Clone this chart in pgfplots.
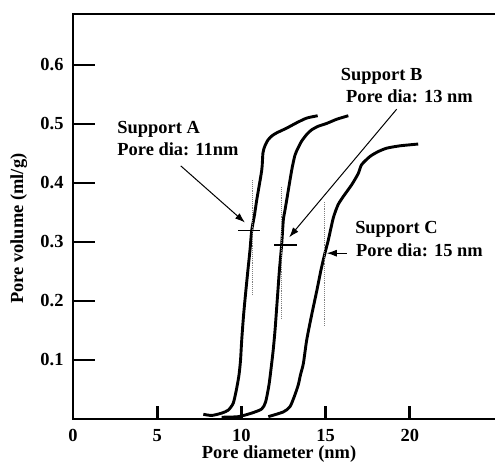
\documentclass[border=0pt]{standalone}
\usepackage{pgfplots}
\pgfplotsset{compat=1.18}
\usepackage{fontspec}
\setmainfont{Liberation Serif}
\usetikzlibrary{arrows.meta}
\newcommand{\lblfont}{\fontsize{18.5}{22}\selectfont\bfseries}
\begin{document}
\begin{tikzpicture}
\begin{axis}[
  name=ax,
  at={(0,0)}, anchor=south west,
  scale only axis, width=424bp, height=405bp,
  xmin=0, xmax=25.18, ymin=0, ymax=0.6864,
  axis line style={line width=2.8bp},
  tick align=inside, tick pos=left,
  major tick length=22bp,
  xtick style={line width=2.8bp, black, /pgfplots/major tick length=13bp},
  ytick style={line width=2.8bp, black},
  xtick={0,5,10,15,20},
  ytick={0.1,0.2,0.3,0.4,0.5,0.6},
  /pgf/number format/assume math mode=true,
  yticklabel style={/pgf/number format/fixed, /pgf/number format/precision=1, /pgf/number format/fixed zerofill, xshift=-6bp},
  xticklabel style={yshift=-7bp},
  tick label style={font=\lblfont},
  label style={font=\lblfont},
  xlabel={Pore diameter (nm)},
  ylabel={Pore volume (ml/g)},
  xlabel style={at={(axis description cs:0.486,-0.0975)}, anchor=base},
  ylabel style={at={(axis description cs:-0.128,0.47)}, anchor=center},
  clip=false,
]
% Support A
\addplot[black, line width=2.9bp, smooth, tension=0.4, line join=round] coordinates {
(7.74,0.008) (8.24,0.006) (8.83,0.010) (9.22,0.015) (9.52,0.027) (9.72,0.052)
(9.86,0.075) (9.95,0.100) (10.02,0.134) (10.13,0.176) (10.24,0.210) (10.39,0.253)
(10.51,0.286) (10.61,0.319) (10.78,0.346) (10.91,0.371) (11.21,0.422) (11.28,0.451)
(11.40,0.463) (11.58,0.473) (11.82,0.480) (12.10,0.485) (12.69,0.493) (13.28,0.502)
(13.88,0.510) (14.53,0.514)
};
% Support B
\addplot[black, line width=2.9bp, smooth, tension=0.4, line join=round] coordinates {
(8.83,0.003) (9.82,0.004) (10.61,0.010) (11.21,0.017) (11.44,0.029) (11.64,0.058)
(11.79,0.092) (11.89,0.117) (12.00,0.151) (12.13,0.202) (12.26,0.253) (12.39,0.295)
(12.49,0.337) (12.59,0.354) (12.69,0.371) (12.99,0.422) (13.18,0.447) (13.36,0.459)
(13.58,0.471) (13.90,0.483) (14.17,0.490) (14.55,0.496) (15.07,0.501) (15.66,0.508)
(16.35,0.514)
};
% Support C
\addplot[black, line width=2.9bp, smooth, tension=0.4, line join=round] coordinates {
(11.60,0.004) (12.49,0.012) (12.89,0.021) (13.18,0.041) (13.38,0.058) (13.51,0.075)
(13.68,0.094) (13.88,0.134) (14.17,0.176) (14.49,0.219) (14.73,0.253) (14.96,0.281)
(15.16,0.303) (15.46,0.341) (15.74,0.363) (16.05,0.377) (16.55,0.397) (16.94,0.416)
(17.14,0.431) (17.64,0.445) (18.11,0.453) (18.63,0.459) (19.42,0.463) (20.50,0.466)
};
% dotted median lines
\addplot[gray, densely dotted, line width=0.9bp] coordinates {(10.67,0.405) (10.67,0.210)};
\addplot[gray, densely dotted, line width=0.9bp] coordinates {(12.39,0.393) (12.39,0.171)};
\addplot[gray, densely dotted, line width=0.9bp] coordinates {(14.96,0.368) (14.96,0.159)};
% cross marks
\addplot[black, line width=1.2bp] coordinates {(9.80,0.319) (11.10,0.319)};
\addplot[black, line width=1.2bp] coordinates {(11.94,0.295) (13.28,0.295)};
% arrows
\addplot[black, line width=1bp, -{Latex[length=10bp,width=7bp]}] coordinates {(6.40,0.429) (10.21,0.333)};
\addplot[black, line width=1bp, -{Latex[length=10bp,width=7bp]}] coordinates {(19.22,0.525) (12.84,0.308)};
\addplot[black, line width=1bp, -{Latex[length=10bp,width=7bp]}] coordinates {(16.25,0.281) (15.07,0.281)};
% annotations
\node[anchor=base west, inner sep=0pt, font=\lblfont] at (axis cs:2.63,0.484) {Support A};
\node[anchor=base west, inner sep=0pt, font=\lblfont] at (axis cs:2.63,0.447) {Pore dia: 11nm};
\node[anchor=base west, inner sep=0pt, font=\lblfont] at (axis cs:15.90,0.573) {Support B};
\node[anchor=base west, inner sep=0pt, font=\lblfont] at (axis cs:16.21,0.536) {Pore dia: 13 nm};
\node[anchor=base west, inner sep=0pt, font=\lblfont] at (axis cs:16.75,0.315) {Support C};
\node[anchor=base west, inner sep=0pt, font=\lblfont] at (axis cs:16.80,0.275) {Pore dia: 15 nm};
\end{axis}
\pgfresetboundingbox
\path[use as bounding box] (ax.south west) ++(-73bp,-46bp) rectangle ++(495bp,465bp);
\end{tikzpicture}
\end{document}
